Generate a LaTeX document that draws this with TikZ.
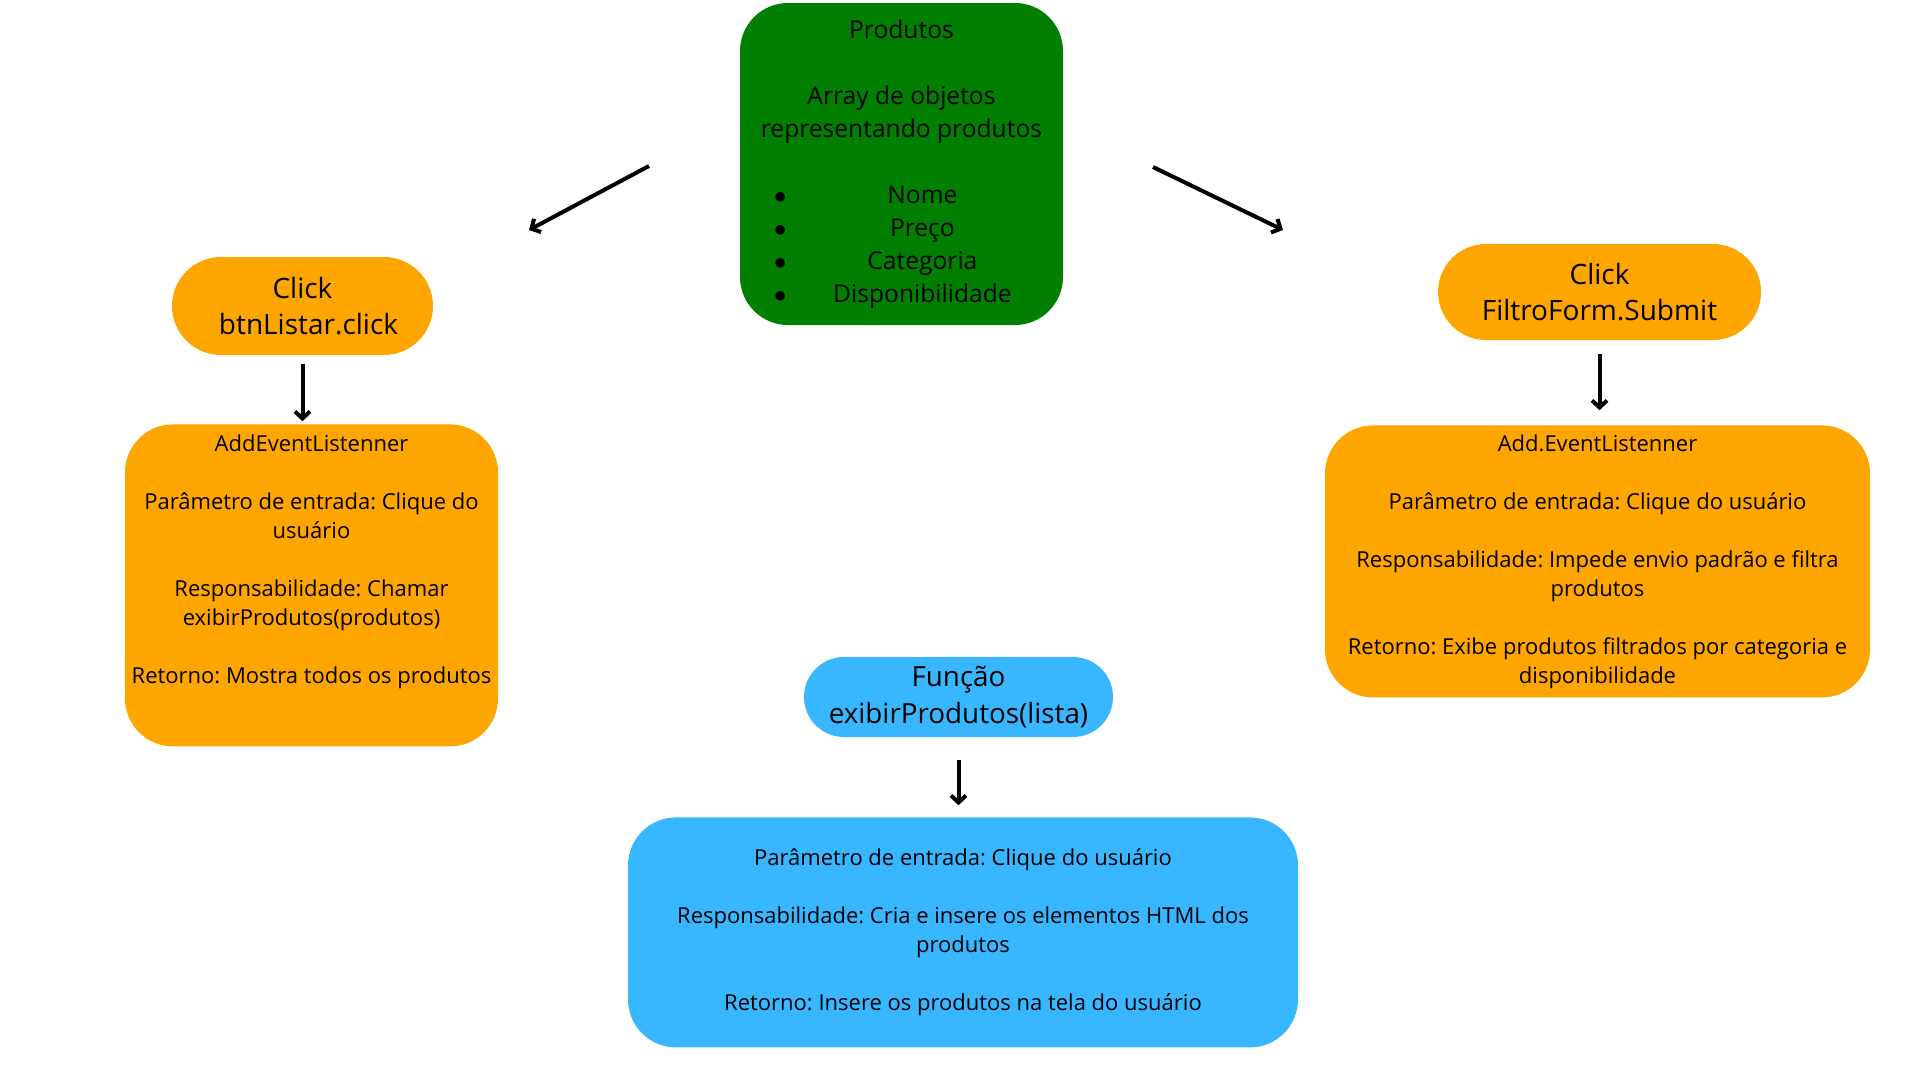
\documentclass[tikz,border=0pt]{standalone}
\usepackage{fontspec}
\setmainfont{Open Sans}
\usetikzlibrary{arrows.meta,positioning}
\usetikzlibrary{shapes.misc}

\definecolor{prodgreen}{HTML}{007F00}
\definecolor{evorange}{HTML}{FFA500}
\definecolor{fnblue}{HTML}{38B6FF}

\frenchspacing
\newcommand{\prodItem}[1]{\makebox[255pt][l]{$\bullet$\hspace{36pt}\makebox[200pt]{#1}}}

\begin{document}
\begin{tikzpicture}[x=1pt,y=-1pt,>={Straight Barb[length=7pt,width=15pt]},
	every node/.style={align=center,inner sep=0pt,text=black},
	prodbox/.style={fill=prodgreen,rounded corners=48pt,minimum width=323pt,minimum height=322pt,font=\fontsize{24.6}{33}\selectfont},
	clickbox/.style={rounded rectangle,fill=evorange,font=\fontsize{28}{36}\selectfont},
	evbox/.style={fill=evorange,rounded corners=48pt,font=\fontsize{22}{29}\selectfont},
	fnbox/.style={rounded rectangle,fill=fnblue,font=\fontsize{27.8}{37}\selectfont},
	fnbig/.style={fill=fnblue,rounded corners=48pt,font=\fontsize{22}{29}\selectfont},
	flow/.style={->,line width=4pt}]
	\useasboundingbox (0,0) rectangle (1920,1080);

	\node[prodbox] (prod) at (901.5,164) {Produtos\\[33pt]Array de objetos\\representando produtos\\[33pt]\prodItem{Nome}\\\prodItem{Preço}\\\prodItem{Categoria}\\\prodItem{Disponibilidade}};

	% lado esquerdo
	\node[clickbox,minimum width=261pt,minimum height=98pt] (clickL) at (302.5,306) {Click\\\hspace{12pt}btnListar.click};
	\node[evbox,minimum width=373pt,minimum height=322pt] (addL) [below=69pt of clickL,xshift=9pt] {AddEventListenner\\[29pt]Parâmetro de entrada: Clique do\\usuário\\[29pt]Responsabilidade: Chamar\\exibirProdutos(produtos)\\[29pt]Retorno: Mostra todos os produtos\\[24pt]\mbox{}};

	% lado direito
	\node[clickbox,minimum width=323pt,minimum height=96pt] (clickR) at (1599.5,292) {Click\\FiltroForm.Submit};
	\node[evbox,minimum width=545pt,minimum height=272pt] (addR) [below=85pt of clickR,xshift=-2pt] {Add.EventListenner\\[29pt]Parâmetro de entrada: Clique do usuário\\[29pt]Responsabilidade: Impede envio padrão e filtra\\produtos\\[29pt]Retorno: Exibe produtos filtrados por categoria e\\disponibilidade};

	% funcao
	\node[fnbox,minimum width=309pt,minimum height=80pt] (func) at (958.5,697) {Função\\exibirProdutos(lista)};
	\node[fnbig,minimum width=670pt,minimum height=230pt] (funcBig) [below=80pt of func,xshift=4.5pt] {Parâmetro de entrada: Clique do usuário\\[29pt]Responsabilidade: Cria e insere os elementos HTML dos\\produtos\\[29pt]Retorno: Insere os produtos na tela do usuário};

	\coordinate (fromL) at (649,166);
	\coordinate (toL) at (529,230);
	\coordinate (fromR) at (1153,167);
	\coordinate (toR) at (1283,230);

	\draw[flow] (fromL) -- (toL);
	\draw[flow] (fromR) -- (toR);
	\draw[flow,shorten <=9pt,shorten >=3pt] (clickL.south) -- (clickL.south |- addL.north);
	\draw[flow,shorten <=14pt,shorten >=15pt] (clickR.south) -- (clickR.south |- addR.north);
	\draw[flow,shorten <=23pt,shorten >=12pt] (func.south) -- (func.south |- funcBig.north);
\end{tikzpicture}
\end{document}
